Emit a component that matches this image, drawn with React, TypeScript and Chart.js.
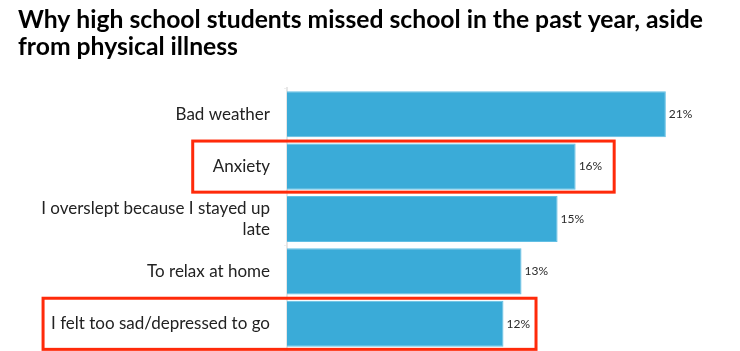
import React, { useEffect, useRef } from "react";
import { Chart, registerables } from "chart.js";

Chart.register(...registerables);

const titleLines = [
  "Why high school students missed school in the past year, aside",
  "from physical illness",
];
const categories: (string | string[])[] = [
  "Bad weather",
  "Anxiety",
  ["I overslept because I stayed up", "late"],
  "To relax at home",
  "I felt too sad/depressed to go",
];
const values = [21, 16, 15, 13, 12];
const highlighted = [1, 4];
const xMax = 25;

const FONT = "Lato";
const LABEL_SIZE = 17;
const VALUE_SIZE = 12;

const dataLabelPlugin = {
  id: "dataLabels",
  afterDatasetsDraw(chart: any) {
    const ctx = chart.ctx;
    const meta = chart.getDatasetMeta(0);
    ctx.save();
    ctx.font = `${VALUE_SIZE}px ${FONT}`;
    ctx.fillStyle = "#2a2a2a";
    ctx.textAlign = "left";
    ctx.textBaseline = "middle";
    meta.data.forEach((el: any, i: number) => {
      ctx.fillText(values[i] + "%", el.x + 3, el.y);
    });
    ctx.restore();
  },
};

const boxPad = [
  { left: 20, right: 12 },
  { left: 8, right: 6 },
];

const highlightPlugin = {
  id: "highlightBoxes",
  afterDraw(chart: any) {
    const ctx = chart.ctx;
    const meta = chart.getDatasetMeta(0);
    const yScale = chart.scales.y;
    ctx.save();
    ctx.strokeStyle = "#ff2a0a";
    ctx.lineWidth = 3;
    highlighted.forEach((idx, k) => {
      const el = meta.data[idx];
      const cat = categories[idx];
      const lines = Array.isArray(cat) ? cat : [cat];
      ctx.font = `${LABEL_SIZE}px ${FONT}`;
      const labelW = Math.max(...lines.map((l) => ctx.measureText(l).width));
      const labelRight = yScale.right - 17;
      ctx.font = `${VALUE_SIZE}px ${FONT}`;
      const valW = ctx.measureText(values[idx] + "%").width;
      const left = labelRight - labelW - boxPad[k].left;
      const right = el.x + 3 + valW + boxPad[k].right;
      const half = el.height / 2 + 2.5;
      ctx.strokeRect(left, el.y - half, right - left, half * 2);
    });
    ctx.restore();
  },
};

export default function App() {
  const ref = useRef<HTMLCanvasElement>(null);
  useEffect(() => {
    if (!ref.current) return;
    const chart = new Chart(ref.current, {
      type: "bar",
      data: {
        labels: categories,
        datasets: [
          {
            data: values,
            backgroundColor: "#3aabd8",
            borderColor: "#62bfe4",
            borderWidth: 1,
            barPercentage: 0.88,
            categoryPercentage: 1,
          },
        ],
      },
      options: {
        indexAxis: "y",
        animation: false,
        responsive: true,
        maintainAspectRatio: false,
        layout: { padding: { left: 18, right: 2, top: 0, bottom: 1 } },
        plugins: {
          legend: { display: false },
          tooltip: { enabled: false },
          title: {
            display: true,
            text: titleLines,
            align: "start",
            color: "#000",
            font: { family: FONT, size: 24.7, weight: "bold", lineHeight: 27 / 24.7 },
            padding: { top: 7, bottom: 27 },
          },
        },
        scales: {
          x: { display: false, min: 0, max: xMax },
          y: {
            afterFit: (s: any) => {
              s.width = 269;
              s.paddingTop = 0;
              s.paddingBottom = 0;
            },
            grid: { display: true, drawOnChartArea: false, tickLength: 3, color: "#eeeeee" },
            border: { display: true, color: "#e6e6e6", width: 2 },
            ticks: {
              padding: 14,
              color: "#222",
              font: { family: FONT, size: LABEL_SIZE, lineHeight: 21.7 / LABEL_SIZE },
            },
          },
        },
      },
      plugins: [dataLabelPlugin, highlightPlugin],
    });
    return () => chart.destroy();
  }, []);
  return (
    <div style={{ position: "absolute", left: 0, top: 0, width: 740, height: 351, background: "#fff" }}>
      <canvas ref={ref} />
    </div>
  );
}
